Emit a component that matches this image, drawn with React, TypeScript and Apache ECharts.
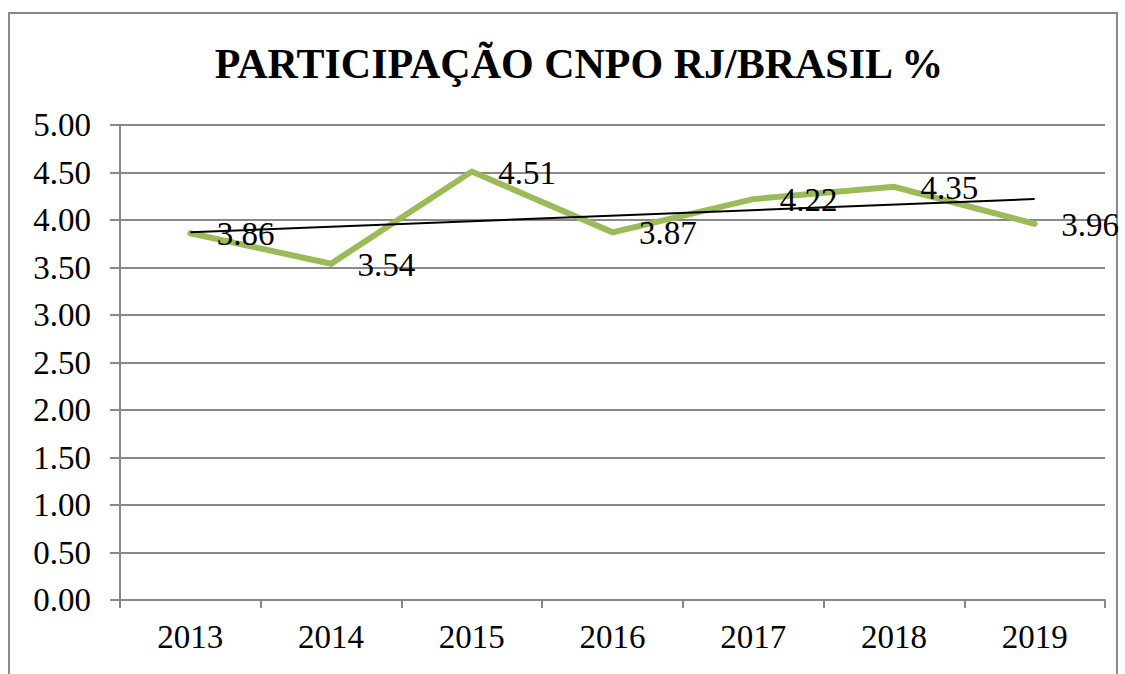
import React, { useEffect, useRef } from "react";
import * as echarts from "echarts";

const categories = ["2013", "2014", "2015", "2016", "2017", "2018", "2019"];
const shareValues = [3.86, 3.54, 4.51, 3.87, 4.22, 4.35, 3.96];
const trendCategories = ["2013", "2019"];
const trendValues = [3.87, 4.22];
const yTicks = { min: 0, max: 5, interval: 0.5 };

const SERIF = "Liberation Serif";
const GRAY = "#898989";

export default function App() {
  const ref = useRef<HTMLDivElement>(null);
  useEffect(() => {
    document.body.style.margin = "0";
    if (!ref.current) return;
    const chart = echarts.init(ref.current, undefined, { renderer: "svg" });
    chart.setOption({
      animation: false,
      backgroundColor: "#ffffff",
      title: {
        text: "PARTICIPAÇÃO CNPO RJ/BRASIL %",
        left: 574,
        textAlign: "center",
        top: 38,
        textStyle: {
          fontFamily: SERIF,
          fontWeight: "bold",
          fontSize: 42,
          color: "#000",
        },
      },
      graphic: [
        {
          type: "rect",
          shape: { x: 9, y: 13, width: 1108, height: 700 },
          style: { fill: "none", stroke: GRAY, lineWidth: 2 },
          silent: true,
        },
      ],
      grid: { left: 120, right: 20, top: 125, bottom: 74 },
      xAxis: {
        type: "category",
        data: categories,
        boundaryGap: true,
        axisLine: { lineStyle: { color: GRAY, width: 2 } },
        axisTick: { show: true, length: 8, lineStyle: { color: GRAY, width: 2 } },
        axisLabel: {
          fontFamily: SERIF,
          fontSize: 33,
          color: "#000",
          margin: 20,
        },
        splitLine: { show: false },
      },
      yAxis: {
        type: "value",
        min: yTicks.min,
        max: yTicks.max,
        interval: yTicks.interval,
        axisLine: { show: true, lineStyle: { color: GRAY, width: 2 } },
        axisTick: { show: true, length: 10, lineStyle: { color: GRAY, width: 2 } },
        axisLabel: {
          fontFamily: SERIF,
          fontSize: 33,
          color: "#000",
          margin: 29,
          formatter: (v: number) => v.toFixed(2),
        },
        splitLine: { show: true, lineStyle: { color: GRAY, width: 2 } },
      },
      series: [
        {
          type: "line",
          data: shareValues,
          symbol: "circle",
          symbolSize: 1,
          itemStyle: { color: "#9bbb59" },
          lineStyle: { color: "#9bbb59", width: 6, cap: "round", join: "miter" },
          label: {
            show: true,
            position: "right",
            distance: 26,
            offset: [0, 1],
            fontFamily: SERIF,
            fontSize: 33,
            color: "#000",
            formatter: (p: any) => Number(p.value).toFixed(2),
          },
          z: 2,
        },
        {
          type: "line",
          data: trendCategories.map((c, i) => [c, trendValues[i]]),
          symbol: "none",
          lineStyle: { color: "#000", width: 2 },
          z: 3,
        },
      ],
    });
    return () => chart.dispose();
  }, []);
  return <div ref={ref} style={{ width: 1125, height: 674 }} />;
}
